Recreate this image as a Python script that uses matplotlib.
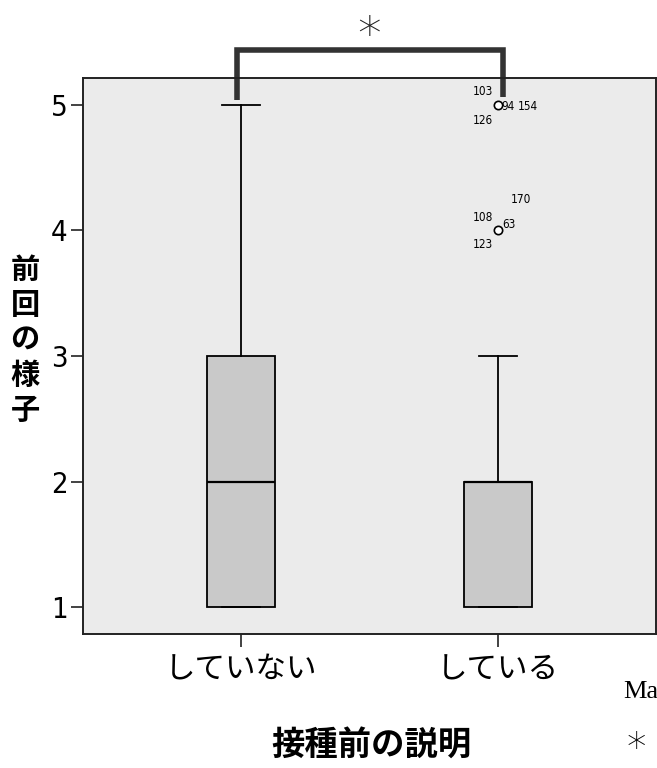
import matplotlib
matplotlib.use("Agg")
import matplotlib.pyplot as plt

plt.rcParams['font.family'] = ['Noto Sans CJK JP', 'DejaVu Sans']

# ---- data ----
categories = ["していない", "している"]
q1 = [1, 1]
median = [2, 2]
q3 = [3, 2]
whisker_low = [1, 1]
whisker_high = [5, 3]
outliers_group2 = [5, 4]
outlier_labels_5 = ["103", "94", "154", "126"]
outlier_labels_4 = ["170", "108", "63", "123"]
y_ticks = [1, 2, 3, 4, 5]
x_label = "接種前の説明"
y_label = "前回の様子"
sig_mark = "*"

narrow = ['DejaVu Sans']

fig = plt.figure(figsize=(6.57, 7.68), dpi=100)
ax = fig.add_axes([83/657, 134/768, 573/657, 556/768])
ax.set_facecolor('#ebebeb')

stats = []
for i, c in enumerate(categories):
    stats.append(dict(label=c, q1=q1[i], med=median[i], q3=q3[i],
                      whislo=whisker_low[i], whishi=whisker_high[i],
                      fliers=outliers_group2 if i == 1 else []))

ax.bxp(stats, positions=[1, 2], widths=0.265, patch_artist=True,
       boxprops=dict(facecolor='#c9c9c9', edgecolor='black', linewidth=1.3),
       medianprops=dict(color='black', linewidth=1.6),
       whiskerprops=dict(color='black', linewidth=1.3),
       capprops=dict(color='black', linewidth=1.3),
       capwidths=0.15,
       flierprops=dict(marker='o', markerfacecolor='white', markeredgecolor='black',
                       markersize=6, markeredgewidth=1.2))

ax.set_xlim(0.385, 2.615)
ax.set_ylim(0.785, 5.215)
ax.set_yticks(y_ticks)
ax.set_yticklabels([str(v) for v in y_ticks], family=narrow, fontstretch='condensed',
                   fontsize=21)
ax.set_xticks([1, 2])
ax.set_xticklabels(categories, fontsize=22)
ax.tick_params(axis='both', direction='out', length=9, width=1.2, color='#222222')
ax.tick_params(axis='x', pad=6)
ax.tick_params(axis='y', pad=2)
for s in ax.spines.values():
    s.set_linewidth(1.4)
    s.set_color('#222222')

# outlier labels
lab_font = dict(fontsize=8.5, family=narrow, fontstretch='condensed')
ax.text(1.98, 5.11, outlier_labels_5[0], ha='right', va='center', **lab_font)
ax.text(2.015, 4.99, outlier_labels_5[1], ha='left', va='center', **lab_font)
ax.text(2.076, 4.99, outlier_labels_5[2], ha='left', va='center', **lab_font)
ax.text(1.98, 4.88, outlier_labels_5[3], ha='right', va='center', **lab_font)
ax.text(2.05, 4.25, outlier_labels_4[0], ha='left', va='center', **lab_font)
ax.text(1.98, 4.10, outlier_labels_4[1], ha='right', va='center', **lab_font)
ax.text(2.015, 4.05, outlier_labels_4[2], ha='left', va='center', **lab_font)
ax.text(1.98, 3.89, outlier_labels_4[3], ha='right', va='center', **lab_font)

# significance bracket
ax.plot([0.984, 0.984, 2.02, 2.02], [5.04, 5.44, 5.44, 5.06], color='#333333',
        linewidth=4, clip_on=False, solid_capstyle='butt', solid_joinstyle='miter')
ax.text(1.5, 5.55, sig_mark, ha='center', va='center', fontsize=34,
        family=['DejaVu Sans'], fontweight='light', color='#222222', clip_on=False)

# axis labels
fig.text(371/657, 1 - 745/768, x_label, ha='center', va='center', fontsize=24, fontweight='bold')
fig.text(25/657, 1 - 340/768, "\n".join(y_label), ha='center', va='center', fontsize=21,
         fontweight='bold', linespacing=1.2)

# stray page text
fig.text(623/657, 1 - 692/768, "Ma", ha='left', va='center', fontsize=19,
         family=['Liberation Serif', 'DejaVu Serif'])
fig.text(636/657, 1 - 749/768, "*", ha='center', va='center', fontsize=28,
         family=['DejaVu Sans'], fontweight='light')

fig.savefig("out.png", dpi=100)
